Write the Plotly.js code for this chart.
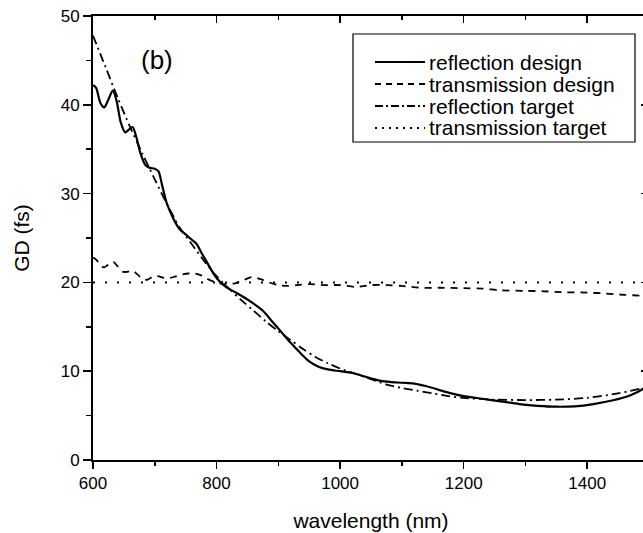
<!DOCTYPE html>
<html>
<head>
<meta charset="utf-8">
<script src="https://cdn.plot.ly/plotly-3.0.1.min.js"></script>
<style>
html,body{margin:0;padding:0;overflow:hidden;background:#fff;}
#chart{width:720px;height:533px;}
</style>
</head>
<body>
<div id="chart"></div>
<script>
// ---- data ----
var reflDesignX = [600,605,612,618,625,632,638,645,652,658,664,670,677,685,692,700,706,712,720,730,740,750,760,768,775,785,795,805,815,830,845,860,875,890,905,920,935,950,965,980,1000,1020,1040,1060,1080,1100,1120,1140,1160,1180,1200,1230,1260,1290,1320,1350,1380,1410,1440,1470,1490,1500];
var reflDesignY = [42.2,41.9,40.2,39.7,40.6,41.6,40.5,38.0,36.9,37.2,37.5,36.4,34.5,33.2,32.9,32.8,32.5,30.9,28.8,27.2,26.0,25.4,24.8,24.3,23.4,22.2,21.0,20.1,19.5,18.9,18.3,17.6,16.8,15.6,14.4,13.2,12.1,11.1,10.5,10.2,10.0,9.8,9.4,9.0,8.8,8.7,8.6,8.3,7.9,7.5,7.2,6.9,6.6,6.3,6.1,6.0,6.05,6.3,6.7,7.3,8.0,8.6];

var transDesignX = [600,606,612,618,625,633,640,648,656,664,672,680,688,696,705,715,725,735,745,755,765,775,785,795,805,815,830,845,857,870,885,900,915,930,950,975,1000,1025,1050,1075,1100,1130,1160,1200,1230,1260,1300,1330,1360,1400,1430,1460,1490,1500];
var transDesignY = [22.8,22.5,21.9,21.7,22.0,22.3,21.8,21.2,21.2,21.3,20.9,20.4,20.3,20.6,20.7,20.5,20.5,20.7,20.9,21.0,21.0,20.8,20.4,20.1,19.9,19.8,19.9,20.3,20.6,20.4,20.0,19.7,19.6,19.7,19.8,19.7,19.7,19.5,19.7,19.7,19.6,19.4,19.4,19.35,19.3,19.1,19.05,19.0,18.9,18.85,18.75,18.6,18.5,18.45];

var reflTargetX = [600,620,640,660,680,700,720,740,760,780,800,820,840,860,880,900,920,940,960,980,1000,1025,1050,1075,1100,1125,1150,1175,1200,1250,1300,1350,1400,1450,1490,1500];
var reflTargetY = [47.8,44.3,40.8,37.5,34.5,31.6,28.8,26.2,24.3,22.4,20.7,19.3,18.0,16.8,15.6,14.5,13.5,12.5,11.6,10.9,10.3,9.7,9.1,8.5,8.1,7.8,7.5,7.2,7.0,6.8,6.75,6.8,7.0,7.5,8.1,8.3];

var transTargetX = [600,1500];
var transTargetY = [20,20];

var seriesNames = ["reflection design","transmission design","reflection target","transmission target"];
var xTickVals = [600,800,1000,1200,1400];
var yTickVals = [0,10,20,30,40,50];

// ---- layout helpers ----
var FONT = "Liberation Sans, Arial, Helvetica, sans-serif";
var plotL = 93, plotR = 649, plotT = 16, plotB = 460;
function px(x){ return (x - plotL) / (plotR - plotL); }
function py(y){ return (plotB - y) / (plotB - plotT); }

var styles = [
  {color:"#000", width:2.2, dash:"solid"},
  {color:"#000", width:1.8, dash:"7px,6px"},
  {color:"#000", width:1.8, dash:"9px,4px,2px,4px"},
  {color:"#000", width:2.0, dash:"2px,10px"}
];
var legendDash = ["solid","6px,5px","8px,3px,2px,3px","2px,5px"];

var xs = [reflDesignX, transDesignX, reflTargetX, transTargetX];
var ys = [reflDesignY, transDesignY, reflTargetY, transTargetY];

var traces = [];
for (var i = 0; i < 4; i++) {
  traces.push({
    x: xs[i], y: ys[i], type: "scatter", mode: "lines", name: seriesNames[i],
    line: {color: styles[i].color, width: styles[i].width, dash: styles[i].dash, shape: i === 3 ? "linear" : "spline", smoothing: 0.8},
    showlegend: false, hoverinfo: "skip"
  });
}
// helper traces so the mirrored (inward tick) axes are drawn
traces.push({x:[null], y:[null], xaxis:"x2", yaxis:"y", type:"scatter", mode:"lines", showlegend:false, hoverinfo:"skip"});
traces.push({x:[null], y:[null], xaxis:"x", yaxis:"y2", type:"scatter", mode:"lines", showlegend:false, hoverinfo:"skip"});

// manual legend
var rowsY = [62, 84, 106, 128];
var shapes = [{
  type:"rect", xref:"paper", yref:"paper",
  x0: px(353), x1: px(635), y0: py(142), y1: py(34),
  line:{color:"#000", width:1.2}, fillcolor:"rgba(255,255,255,1)", layer:"above"
}];
var annotations = [];
for (var k = 0; k < 4; k++) {
  shapes.push({
    type:"line", xref:"paper", yref:"paper",
    x0: px(375), x1: px(425), y0: py(rowsY[k]), y1: py(rowsY[k]),
    line:{color:"#000", width: k === 0 ? 2.2 : 1.8, dash: legendDash[k]}, layer:"above"
  });
  annotations.push({
    xref:"paper", yref:"paper", x: px(427), y: py(rowsY[k]),
    xanchor:"left", yanchor:"middle", showarrow:false, text: seriesNames[k],
    font:{family:FONT, size:21, color:"#000"}
  });
}
annotations.push({
  xref:"paper", yref:"paper", x: px(157), y: py(60), xanchor:"center", yanchor:"middle",
  showarrow:false, text:"(b)", font:{family:FONT, size:26, color:"#000"}
});

var axisCommon = {
  showgrid:false, zeroline:false, showline:true, linecolor:"#000", linewidth:2,
  tickcolor:"#000", tickwidth:1.5, tickfont:{family:FONT, size:17, color:"#000"}
};

var layout = {
  width: 720, height: 533,
  margin: {l: plotL, r: 720 - plotR, t: plotT, b: 533 - plotB, pad: 0},
  paper_bgcolor:"#fff", plot_bgcolor:"#fff",
  showlegend:false,
  font:{family:FONT, color:"#000"},
  xaxis: Object.assign({}, axisCommon, {
    range:[600,1500], tickmode:"array", tickvals:xTickVals, ticks:"outside", ticklen:7,
    minor:{dtick:100, tick0:600, ticks:"outside", ticklen:4, tickwidth:1.5, tickcolor:"#000"},
    title:{text:"wavelength (nm)", font:{family:FONT, size:21, color:"#000"}, standoff:21}
  }),
  xaxis2: Object.assign({}, axisCommon, {
    overlaying:"x", side:"top", anchor:"y", range:[600,1500], tickmode:"array", tickvals:xTickVals,
    ticks:"inside", ticklen:7, showticklabels:false,
    minor:{dtick:100, tick0:600, ticks:"inside", ticklen:4, tickwidth:1.5, tickcolor:"#000"}
  }),
  yaxis: Object.assign({}, axisCommon, {
    range:[0,50], tickmode:"array", tickvals:yTickVals, ticks:"outside", ticklen:8,
    minor:{dtick:5, tick0:0, ticks:"outside", ticklen:5, tickwidth:1.5, tickcolor:"#000"},
    title:{text:"GD (fs)", font:{family:FONT, size:21, color:"#000"}, standoff:25}
  }),
  yaxis2: Object.assign({}, axisCommon, {
    overlaying:"y", side:"right", anchor:"x", range:[0,50], tickmode:"array", tickvals:yTickVals,
    ticks:"inside", ticklen:8, showticklabels:false,
    minor:{dtick:5, tick0:0, ticks:"inside", ticklen:5, tickwidth:1.5, tickcolor:"#000"}
  }),
  shapes: shapes,
  annotations: annotations
};

Plotly.newPlot("chart", traces, layout, {staticPlot:true, displayModeBar:false});
</script>
</body>
</html>
